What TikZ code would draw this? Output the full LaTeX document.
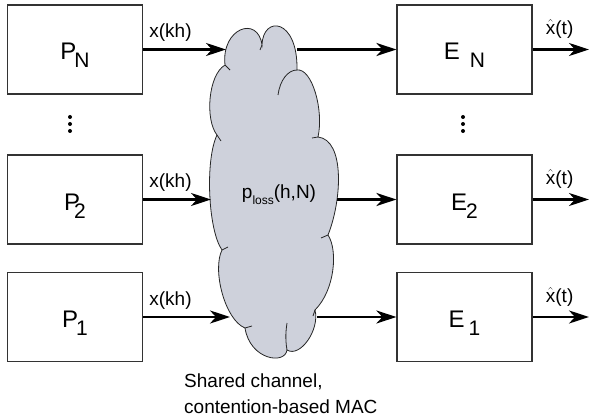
\documentclass[tikz,border=0pt]{standalone}
\usepackage{fontspec}
\setmainfont{Liberation Sans}
\usetikzlibrary{arrows.meta,positioning}
\definecolor{cloudgray}{RGB}{206,209,219}
\newcommand{\lowsub}[1]{\raisebox{-8pt}{\fontsize{21}{21}\selectfont #1}}
\newcommand{\xhat}{$\hat{\mbox{x}}$}

\tikzset{
  block/.style={draw=black!80,line width=1.2pt,minimum width=135pt,minimum height=89pt,
    inner sep=0pt,text height=21pt,text depth=0pt,font=\fontsize{24}{24}\selectfont},
  flow/.style={line width=2.6pt,-{Stealth[length=20pt,width=13pt,inset=6pt]}},
  lab/.style={font=\fontsize{19}{19}\selectfont,inner sep=0pt},
  inlab/.style={lab,pos=0,anchor=base west,xshift=5pt,yshift=12pt},
  outlab/.style={lab,pos=0,anchor=base west,xshift=12pt,yshift=15pt},
  cloudline/.style={draw=black!85,line width=0.8pt},
}

\begin{document}
\begin{tikzpicture}[x=1pt,y=-1pt,node distance=2cm,on grid]
\useasboundingbox (0,0) rectangle (589,417);

% cloud
\path[cloudline,fill=cloudgray] (225,65) .. controls (221,28) and (258,15) .. (262,45)
  .. controls (263,15) and (298,18) .. (297,70)
  .. controls (312,68) and (324,110) .. (318,137)
  .. controls (345,140) and (342,200) .. (328,235)
  .. controls (338,250) and (335,290) .. (315,310)
  .. controls (320,330) and (300,358) .. (287,350)
  .. controls (285,365) and (250,360) .. (245,328)
  .. controls (225,320) and (212,270) .. (222,250)
  .. controls (208,230) and (205,160) .. (217,135)
  .. controls (205,120) and (208,75) .. cycle;
\draw[cloudline] (297,70) .. controls (288,70) and (280,80) .. (278,95);
\draw[cloudline] (287,350) .. controls (285,338) and (286,330) .. (287,323);
\draw[cloudline] (262,45) -- (260,50);
\draw[cloudline] (318,137) -- (312,138);
\draw[cloudline] (328,235) -- (321,238);
\draw[cloudline] (315,310) -- (313,316);
\draw[cloudline] (245,328) -- (252,326);
\draw[cloudline] (222,250) -- (228,247);
\draw[cloudline] (217,135) -- (221,141);
\draw[cloudline] (225,65) -- (230,70);

\node[lab] (ploss) at (279,198) [anchor=base] {p\raisebox{-6pt}{\fontsize{12}{12}\selectfont loss}(h,N)};
\node[lab,anchor=base west,align=left,font=\fontsize{19}{26}\selectfont] (mac) at (184,413)
  {Shared channel,\\contention-based MAC};

% cloud entry and exit points
\coordinate (inN) at (226,49.5);
\coordinate (in2) at (211,199.5);
\coordinate (in1) at (230,317);
\coordinate (cN) at (297,49.5);
\coordinate (c2) at (337,199.5);
\coordinate (c1) at (317,317);
\coordinate (outN) at (589,49.5);
\coordinate (out2) at (589,199.5);
\coordinate (out1) at (589,317);

% plants and estimators
\node[block] (PN) at (75,49.5) {P\kern-2pt\lowsub{N}};
\node[block] (P2) [below=150pt of PN] {P\kern-6pt\lowsub{2}};
\node[block] (P1) [below=117.5pt of P2] {P\kern-2pt\lowsub{1}};
\node[block] (EN) [right=389.5pt of PN] {E\kern10pt\lowsub{N}};
\node[block] (E2) [right=389.5pt of P2] {E\kern-1pt\lowsub{2}};
\node[block] (E1) [right=389.5pt of P1] {E\kern4pt\lowsub{1}};

\fill (70,117) circle (2pt) (70,124) circle (2pt) (70,131) circle (2pt);
\fill (463,117) circle (2pt) (463,124) circle (2pt) (463,131) circle (2pt);

\draw[flow] (PN) -- node[inlab] {x(kh)} (inN);
\draw[flow] (P2) -- node[inlab] {x(kh)} (in2);
\draw[flow] (P1) -- node[inlab] {x(kh)} (in1);
\draw[flow] (cN) -- (EN);
\draw[flow] (c2) -- (E2);
\draw[flow] (c1) -- (E1);
\draw[flow] (EN) -- node[outlab] {\xhat(t)} (outN);
\draw[flow] (E2) -- node[outlab] {\xhat(t)} (out2);
\draw[flow] (E1) -- node[outlab] {\xhat(t)} (out1);
\end{tikzpicture}
\end{document}
